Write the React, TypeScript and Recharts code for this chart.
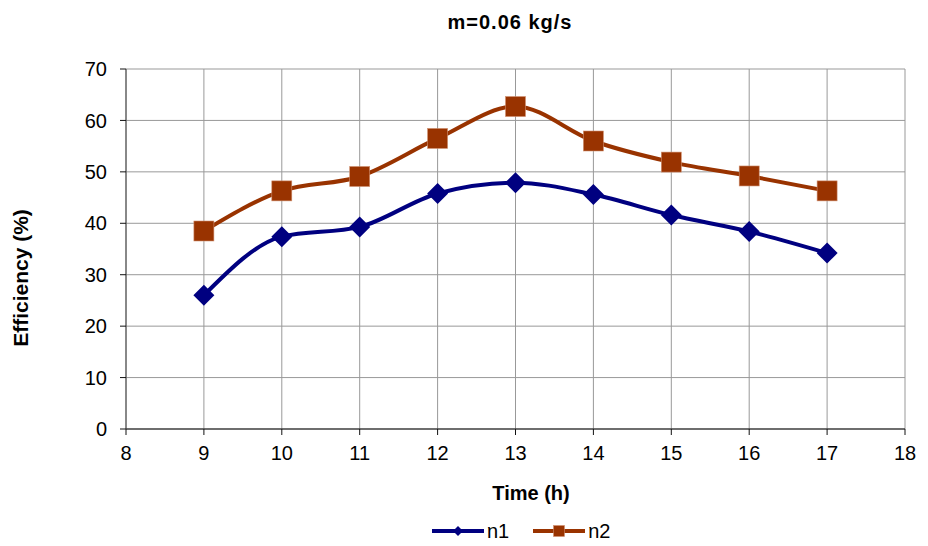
import { LineChart, Line, XAxis, YAxis, CartesianGrid } from "recharts"

const HOURS = [9, 10, 11, 12, 13, 14, 15, 16, 17]
const ETA1 = [26.0, 37.4, 39.3, 45.8, 47.9, 45.6, 41.6, 38.4, 34.2]
const ETA2 = [38.5, 46.3, 49.1, 56.5, 62.7, 56.0, 51.9, 49.2, 46.3]
const X_TICKS = [8, 9, 10, 11, 12, 13, 14, 15, 16, 17, 18]
const Y_TICKS = [0, 10, 20, 30, 40, 50, 60, 70]

const BLUE = "#000080"
const BROWN = "#993300"
const FONT = "'Liberation Sans', Arial, sans-serif"

const data = HOURS.map((h, i) => ({ h, eta1: ETA1[i], eta2: ETA2[i] }))

// recharts hands its own r to the dot, so the size is a separate prop
const Diamond = ({ cx, cy, size = 10.5 }: any) => {
  if (cx == null || cy == null) return null
  const s = size
  return <path d={`M${cx},${cy - s}L${cx + s},${cy}L${cx},${cy + s}L${cx - s},${cy}Z`} fill={BLUE} />
}

const Square = ({ cx, cy, size = 10 }: any) => {
  if (cx == null || cy == null) return null
  const s = size
  return <rect x={cx - s} y={cy - s} width={2 * s} height={2 * s} fill={BROWN} stroke="#d09070" strokeWidth={0.6} />
}

const LEGEND = [
  { name: "η1", color: BLUE, Mark: Diamond, size: 5 },
  { name: "η2", color: BROWN, Mark: Square, size: 5.5 },
]

export default function App() {
  return (
    <div style={{ position: "relative", width: 928, height: 546, margin: -8, background: "#fff", fontFamily: FONT, color: "#000" }}>
      <div style={{
        position: "absolute", top: 11, left: 510, transform: "translateX(-50%)",
        fontWeight: 700, fontSize: 20, letterSpacing: 1, whiteSpace: "nowrap",
      }}>
        m=0.06 kg/s
      </div>
      <div style={{
        position: "absolute", top: 482, left: 531, transform: "translateX(-50%)",
        fontWeight: 700, fontSize: 20, whiteSpace: "nowrap",
      }}>
        Time (h)
      </div>
      <div style={{
        position: "absolute", left: 21, top: 278, transform: "translate(-50%, -50%) rotate(-90deg)",
        fontWeight: 700, fontSize: 21, whiteSpace: "nowrap",
      }}>
        Efficiency (%)
      </div>
      <div style={{ position: "absolute", top: 519, left: 432, display: "flex", alignItems: "center", fontSize: 20 }}>
        {LEGEND.map((it, i) => (
          <div key={it.name} style={{ display: "flex", alignItems: "center", marginLeft: i ? 24 : 0 }}>
            <svg width={52} height={24}>
              <line x1={0} y1={12} x2={52} y2={12} stroke={it.color} strokeWidth={4} />
              <it.Mark cx={26} cy={12} size={it.size} />
            </svg>
            <span style={{ marginLeft: 3 }}>{it.name}</span>
          </div>
        ))}
      </div>
      <LineChart width={928} height={546} data={data} margin={{ top: 69, right: 23, bottom: 87, left: 66 }}>
        <CartesianGrid stroke="#999" strokeWidth={1} />
        <XAxis
          dataKey="h" type="number" domain={[8, 18]} ticks={X_TICKS} interval={0}
          height={30} tickSize={6} tickMargin={11}
          axisLine={{ stroke: "#111" }} tickLine={{ stroke: "#111" }}
          tick={{ fontSize: 20, fill: "#000", fontFamily: FONT }}
        />
        <YAxis
          type="number" domain={[0, 70]} ticks={Y_TICKS} interval={0}
          width={60} tickSize={6} tickMargin={13}
          axisLine={{ stroke: "#444" }} tickLine={{ stroke: "#111" }}
          tick={{ fontSize: 20, fill: "#000", fontFamily: FONT }}
        />
        <Line type="monotone" dataKey="eta1" name="η1" stroke={BLUE} strokeWidth={4}
          dot={<Diamond />} activeDot={false} isAnimationActive={false} />
        <Line type="monotone" dataKey="eta2" name="η2" stroke={BROWN} strokeWidth={4}
          dot={<Square />} activeDot={false} isAnimationActive={false} />
      </LineChart>
    </div>
  )
}
